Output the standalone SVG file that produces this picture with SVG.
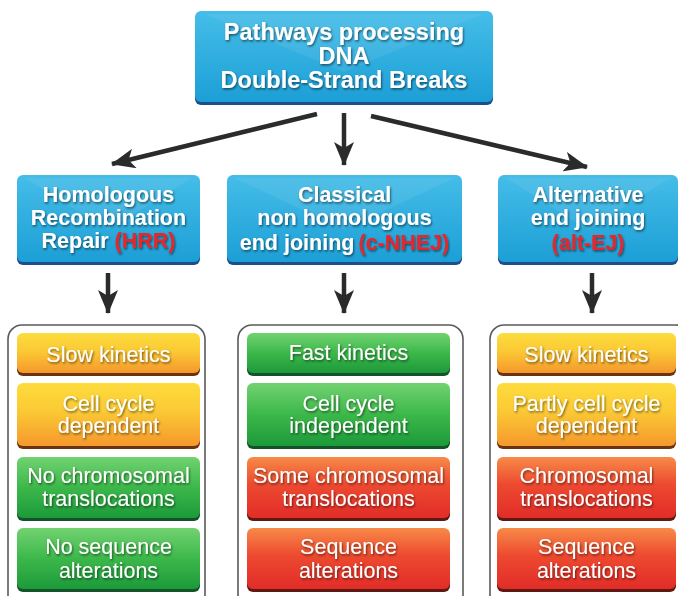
<svg xmlns="http://www.w3.org/2000/svg" width="678" height="596" viewBox="0 0 678 596">
  <defs>
    <linearGradient id="gBlue" x1="0" y1="0" x2="0" y2="1">
      <stop offset="0" stop-color="#45bde8"/>
      <stop offset="1" stop-color="#1c9fd6"/>
    </linearGradient>
    <linearGradient id="gYellow" x1="0" y1="0" x2="0" y2="1">
      <stop offset="0" stop-color="#fddc3c"/>
      <stop offset="0.45" stop-color="#fbc935"/>
      <stop offset="1" stop-color="#f5982c"/>
    </linearGradient>
    <linearGradient id="gGreen" x1="0" y1="0" x2="0" y2="1">
      <stop offset="0" stop-color="#72d270"/>
      <stop offset="0.5" stop-color="#3cb84a"/>
      <stop offset="1" stop-color="#1c9a3a"/>
    </linearGradient>
    <linearGradient id="gRed" x1="0" y1="0" x2="0" y2="1">
      <stop offset="0" stop-color="#f78a48"/>
      <stop offset="0.45" stop-color="#ed4a30"/>
      <stop offset="1" stop-color="#e22c28"/>
    </linearGradient>
    <filter id="txtShadow" x="-10%" y="-20%" width="120%" height="150%">
      <feDropShadow dx="1" dy="1.5" stdDeviation="0.9" flood-color="#000" flood-opacity="0.55"/>
    </filter>
    <marker id="head" viewBox="0 0 24 20" refX="23" refY="10" markerWidth="24" markerHeight="20" markerUnits="userSpaceOnUse" orient="auto">
      <path d="M0,0 L24,10 L0,20 L6,10 z" fill="#2b2b2b"/>
    </marker>
    <style>
      .title { font-family: "Liberation Sans", Arial, sans-serif; font-weight: bold; fill: #ffffff; text-anchor: middle; filter: url(#txtShadow); }
      .t1 { font-size: 23.5px; }
      .t2 { font-size: 21.5px; }
      .red { fill: #e8252b; }
      .item { font-family: "Liberation Sans", Arial, sans-serif; font-size: 21.5px; fill: #ffffff; text-anchor: middle; filter: url(#txtShadow); }
      .edgeBlue { fill: #1d4e8c; }
      .edgeOrange { fill: #6a3410; }
      .edgeGreen { fill: #14532a; }
      .edgeRed { fill: #5e1a12; }
      .sheen { fill: #ffffff; opacity: 0.07; }
      .frame { fill: #ffffff; stroke: #5a5a5a; stroke-width: 1.6; }
      .conn { stroke: #2b2b2b; stroke-width: 4.5; fill: none; marker-end: url(#head); }
    </style>
  </defs>

  <rect width="678" height="596" fill="#ffffff"/>

  <!-- root node -->
  <g id="root">
    <rect class="edgeBlue" x="195" y="14" width="298" height="91" rx="6"/>
    <rect x="195" y="11" width="298" height="91" rx="6" fill="url(#gBlue)"/>
    <polygon class="sheen" points="205,14 344,72 483,14"/>
    <text class="title t1" x="344" y="40">Pathways processing</text>
    <text class="title t1" x="344" y="64">DNA</text>
    <text class="title t1" x="344" y="88">Double-Strand Breaks</text>
  </g>

  <!-- pathway nodes -->
  <g id="hrr">
    <rect class="edgeBlue" x="17" y="178" width="183" height="87" rx="6"/>
    <rect x="17" y="175" width="183" height="87" rx="6" fill="url(#gBlue)"/>
    <polygon class="sheen" points="25,178 108,230 192,178"/>
    <text class="title t2" x="108.5" y="202">Homologous</text>
    <text class="title t2" x="108.5" y="225">Recombination</text>
    <text class="title t2" x="108.5" y="248">Repair <tspan class="red">(HRR)</tspan></text>
  </g>

  <g id="cnhej">
    <rect class="edgeBlue" x="227" y="178" width="235" height="87" rx="6"/>
    <rect x="227" y="175" width="235" height="87" rx="6" fill="url(#gBlue)"/>
    <polygon class="sheen" points="235,178 344,230 454,178"/>
    <text class="title t2" x="344.5" y="202">Classical</text>
    <text class="title t2" x="344.5" y="225">non homologous</text>
    <text class="title t2" x="344.5" y="250">end joining<tspan class="red" dx="4">(c-NHEJ)</tspan></text>
  </g>

  <g id="altej">
    <rect class="edgeBlue" x="498" y="178" width="180" height="87" rx="6"/>
    <rect x="498" y="175" width="180" height="87" rx="6" fill="url(#gBlue)"/>
    <polygon class="sheen" points="506,178 588,230 670,178"/>
    <text class="title t2" x="588" y="202">Alternative</text>
    <text class="title t2" x="588" y="225">end joining</text>
    <text class="title t2 red" x="588" y="250">(alt-EJ)</text>
  </g>

  <!-- property panel: HRR -->
  <g id="hrr-props">
    <rect class="frame" x="8" y="325" width="197" height="285" rx="14"/>
    <rect class="edgeOrange" x="17" y="336" width="183" height="40" rx="6"/>
    <rect x="17" y="333" width="183" height="40" rx="6" fill="url(#gYellow)"/>
    <text class="item" x="108.5" y="362">Slow kinetics</text>
    <rect class="edgeOrange" x="17" y="386" width="183" height="63" rx="6"/>
    <rect x="17" y="383" width="183" height="63" rx="6" fill="url(#gYellow)"/>
    <text class="item" x="108.5" y="411">Cell cycle</text>
    <text class="item" x="108.5" y="433">dependent</text>
    <rect class="edgeGreen" x="17" y="460" width="183" height="61" rx="6"/>
    <rect x="17" y="457" width="183" height="61" rx="6" fill="url(#gGreen)"/>
    <text class="item" x="108.5" y="483">No chromosomal</text>
    <text class="item" x="108.5" y="506">translocations</text>
    <rect class="edgeGreen" x="17" y="531" width="183" height="61" rx="6"/>
    <rect x="17" y="528" width="183" height="61" rx="6" fill="url(#gGreen)"/>
    <text class="item" x="108.5" y="554">No sequence</text>
    <text class="item" x="108.5" y="578">alterations</text>
  </g>

  <!-- property panel: c-NHEJ -->
  <g id="cnhej-props">
    <rect class="frame" x="238" y="325" width="225" height="285" rx="14"/>
    <rect class="edgeGreen" x="247" y="336" width="203" height="40" rx="6"/>
    <rect x="247" y="333" width="203" height="40" rx="6" fill="url(#gGreen)"/>
    <text class="item" x="348.5" y="360">Fast kinetics</text>
    <rect class="edgeGreen" x="247" y="386" width="203" height="63" rx="6"/>
    <rect x="247" y="383" width="203" height="63" rx="6" fill="url(#gGreen)"/>
    <text class="item" x="348.5" y="411">Cell cycle</text>
    <text class="item" x="348.5" y="433">independent</text>
    <rect class="edgeRed" x="247" y="460" width="203" height="61" rx="6"/>
    <rect x="247" y="457" width="203" height="61" rx="6" fill="url(#gRed)"/>
    <text class="item" x="348.5" y="483">Some chromosomal</text>
    <text class="item" x="348.5" y="506">translocations</text>
    <rect class="edgeRed" x="247" y="531" width="203" height="61" rx="6"/>
    <rect x="247" y="528" width="203" height="61" rx="6" fill="url(#gRed)"/>
    <text class="item" x="348.5" y="554">Sequence</text>
    <text class="item" x="348.5" y="578">alterations</text>
  </g>

  <!-- property panel: alt-EJ -->
  <g id="altej-props">
    <rect class="frame" x="490" y="325" width="200" height="285" rx="14"/>
    <rect class="edgeOrange" x="497" y="336" width="179" height="40" rx="6"/>
    <rect x="497" y="333" width="179" height="40" rx="6" fill="url(#gYellow)"/>
    <text class="item" x="586.5" y="362">Slow kinetics</text>
    <rect class="edgeOrange" x="497" y="386" width="179" height="63" rx="6"/>
    <rect x="497" y="383" width="179" height="63" rx="6" fill="url(#gYellow)"/>
    <text class="item" x="586.5" y="411">Partly cell cycle</text>
    <text class="item" x="586.5" y="433">dependent</text>
    <rect class="edgeRed" x="497" y="460" width="179" height="61" rx="6"/>
    <rect x="497" y="457" width="179" height="61" rx="6" fill="url(#gRed)"/>
    <text class="item" x="586.5" y="483">Chromosomal</text>
    <text class="item" x="586.5" y="506">translocations</text>
    <rect class="edgeRed" x="497" y="531" width="179" height="61" rx="6"/>
    <rect x="497" y="528" width="179" height="61" rx="6" fill="url(#gRed)"/>
    <text class="item" x="586.5" y="554">Sequence</text>
    <text class="item" x="586.5" y="578">alterations</text>
  </g>

  <!-- connectors -->
  <g id="connectors">
    <line class="conn" x1="317" y1="114" x2="112" y2="164"/>
    <line class="conn" x1="344" y1="113" x2="344" y2="165"/>
    <line class="conn" x1="371" y1="116" x2="587" y2="167"/>
    <line class="conn" x1="108" y1="273" x2="108" y2="313"/>
    <line class="conn" x1="344" y1="273" x2="344" y2="313"/>
    <line class="conn" x1="592" y1="273" x2="592" y2="313"/>
  </g>
</svg>
